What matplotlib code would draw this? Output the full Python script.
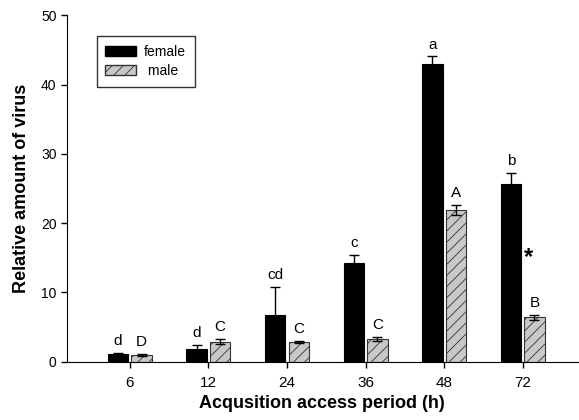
import numpy as np
import matplotlib.pyplot as plt
from matplotlib.patches import Patch

plt.rcParams['font.family'] = ['Liberation Sans', 'DejaVu Sans']
plt.rcParams['hatch.linewidth'] = 0.6
plt.rcParams['hatch.color'] = '#333333'

periods = ['6', '12', '24', '36', '48', '72']
female = [1.1, 1.8, 6.8, 14.2, 43.0, 25.7]
female_err = [0.15, 0.6, 4.0, 1.2, 1.05, 1.5]
male = [1.0, 2.9, 2.8, 3.25, 21.9, 6.4]
male_err = [0.15, 0.35, 0.15, 0.3, 0.72, 0.35]
female_letters = ['d', 'd', 'cd', 'c', 'a', 'b']
male_letters = ['D', 'C', 'C', 'C', 'A', 'B']


def main():
    fig = plt.figure(figsize=(5.79, 4.2), dpi=100)
    ax = fig.add_axes([0.1157, 0.1388, 0.882, 0.825])

    x = np.arange(len(periods))
    w = 0.26
    off = 0.15

    ax.bar(x - off, female, w, color='black', edgecolor='black', linewidth=0.8)
    ax.bar(x + off, male, w, color='#c8c8c8', edgecolor='#333333',
           linewidth=0.8, hatch='///')
    ax.errorbar(x - off, female, yerr=female_err, fmt='none',
                ecolor='black', elinewidth=1, capsize=3.6, capthick=1)
    ax.errorbar(x + off, male, yerr=male_err, fmt='none',
                ecolor='black', elinewidth=1, capsize=3.6, capthick=1)

    for i in range(len(x)):
        ax.text(x[i] - off, female[i] + female_err[i] + 0.7, female_letters[i],
                ha='center', va='bottom', fontsize=11)
        ax.text(x[i] + off, male[i] + male_err[i] + 0.7, male_letters[i],
                ha='center', va='bottom', fontsize=11)

    ax.text(5.07, 15.0, '*', ha='center', va='center', fontsize=17, fontweight='bold')

    ax.set_xlim(-0.8, 5.7)
    ax.set_ylim(0, 50)
    ax.set_xticks(x)
    ax.set_xticklabels(periods, fontsize=11)
    ax.set_yticks(np.arange(0, 51, 10))
    ax.tick_params(axis='y', labelsize=10, direction='out', length=4, width=1)
    ax.tick_params(axis='x', direction='out', length=4, width=1, pad=6)
    ax.spines['top'].set_visible(False)
    ax.spines['right'].set_visible(False)

    ax.set_xlabel('Acqusition access period (h)', fontsize=13, fontweight='bold', labelpad=4)
    ax.set_ylabel('Relative amount of virus', fontsize=13, fontweight='bold', labelpad=8)

    handles = [Patch(facecolor='black', edgecolor='black', label='female'),
               Patch(facecolor='#c8c8c8', edgecolor='#333333', hatch='///', label=' male')]
    leg = ax.legend(handles=handles, loc='upper left', bbox_to_anchor=(0.0587, 0.939),
                    borderaxespad=0, fontsize=10, frameon=True, fancybox=False,
                    edgecolor='black', handlelength=2.2, handleheight=0.75,
                    handletextpad=0.6, borderpad=0.6, labelspacing=0.4)
    leg.get_frame().set_linewidth(1)

    fig.savefig('out.png', dpi=100)


if __name__ == "__main__":
    main()
